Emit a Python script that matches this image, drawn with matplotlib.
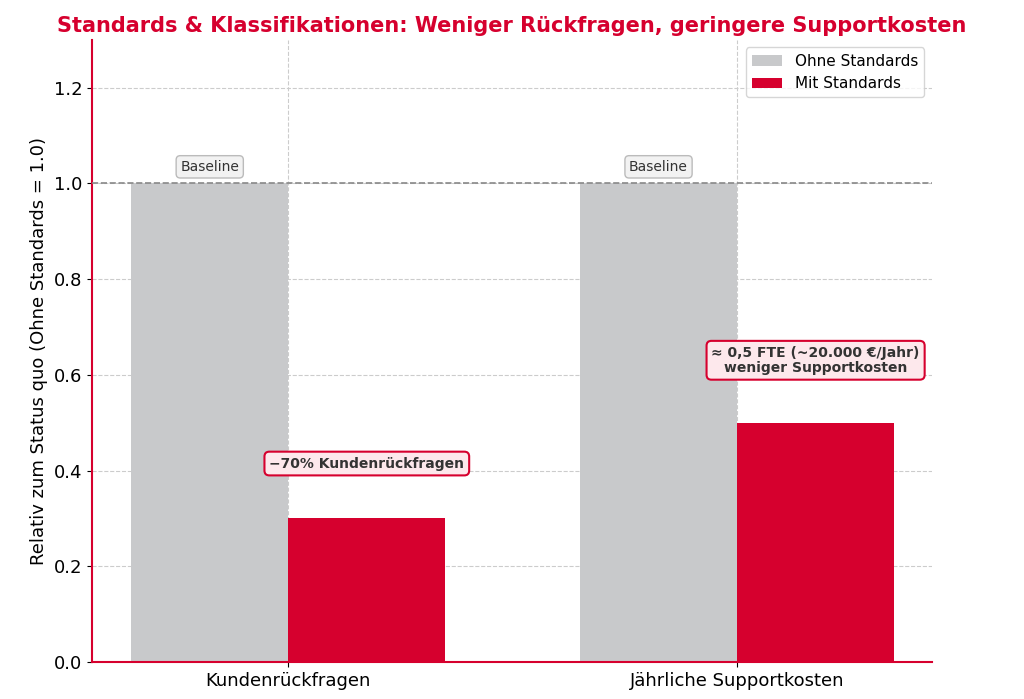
import numpy as np
import matplotlib.pyplot as plt

categories = ['Kundenrückfragen', 'Jährliche Supportkosten']
ohne = [1.0, 1.0]
mit = [0.3, 0.5]
notes = ['\u221270% Kundenrückfragen', '\u2248 0,5 FTE (~20.000 €/Jahr)\nweniger Supportkosten']

red = '#d6002e'
gray = '#c8c9cb'

fig, ax = plt.subplots(figsize=(10.24, 6.99), dpi=100)
fig.subplots_adjust(left=0.09, right=0.91, top=0.943, bottom=0.053)

x = np.arange(len(categories))
w = 0.35
ax.bar(x - w / 2, ohne, w, color=gray, label='Ohne Standards', zorder=2)
ax.bar(x + w / 2, mit, w, color=red, label='Mit Standards', zorder=2)

ax.axhline(1.0, color='#888888', linestyle='--', linewidth=1.2, zorder=3)

for i in range(len(categories)):
    ax.text(x[i] - w / 2, ohne[i] + 0.02, 'Baseline', ha='center', va='bottom', fontsize=10,
            color='#333333',
            bbox=dict(boxstyle='round,pad=0.3', fc='#f2f2f2', ec='#bbbbbb'))
    ax.text(x[i] + w / 2, mit[i] + 0.1, notes[i], ha='center', va='bottom', fontsize=10,
            fontweight='bold', color='#333333', linespacing=1.1,
            bbox=dict(boxstyle='round,pad=0.35', fc='#fde8ec', ec=red, lw=1.5))

ax.set_xticks(x)
ax.set_xticklabels(categories, fontsize=13)
ax.set_xlim(-0.437, 1.434)
ax.set_ylim(0, 1.3)
ax.set_yticks(np.arange(0, 1.3, 0.2))
ax.tick_params(axis='y', labelsize=13)
ax.set_ylabel('Relativ zum Status quo (Ohne Standards = 1.0)', fontsize=13)
ax.set_title('Standards & Klassifikationen: Weniger Rückfragen, geringere Supportkosten',
             fontsize=15, fontweight='bold', color=red)

ax.grid(True, linestyle='--', color='#cccccc', linewidth=0.8, zorder=0)
ax.set_axisbelow(True)
for s in ['top', 'right']:
    ax.spines[s].set_visible(False)
for s in ['left', 'bottom']:
    ax.spines[s].set_color(red)
    ax.spines[s].set_linewidth(1.5)

ax.legend(loc='upper right', fontsize=11)

fig.savefig('out.png', dpi=100)
